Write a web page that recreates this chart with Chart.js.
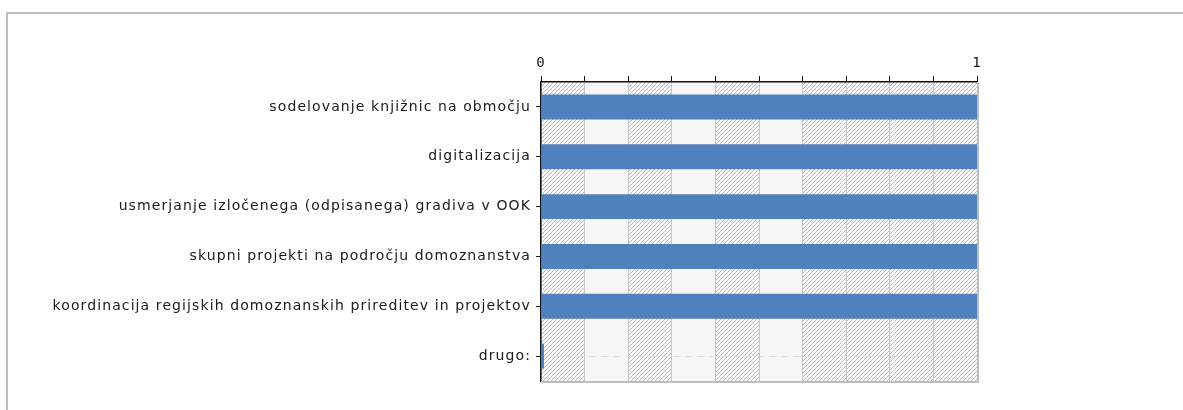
<!DOCTYPE html>
<html>
<head>
<meta charset="utf-8">
<script src="https://cdn.jsdelivr.net/npm/chart.js@4"></script>
<style>
  html, body { margin: 0; padding: 0; background: #fff; overflow: hidden; }
  #frame {
    position: absolute; left: 6px; top: 12px; width: 1300px; height: 500px;
    border-left: 2px solid #bdbdbd; border-top: 2px solid #bdbdbd;
  }
  #wrap { position: absolute; left: 0; top: 0; width: 1183px; height: 410px; }
</style>
</head>
<body>
<div id="frame"></div>
<div id="wrap"><canvas id="chart"></canvas></div>
<script>
const categories = [
  "sodelovanje knjižnic na območju",
  "digitalizacija",
  "usmerjanje izločenega (odpisanega) gradiva v OOK",
  "skupni projekti na področju domoznanstva",
  "koordinacija regijskih domoznanskih prireditev in projektov",
  "drugo:"
];
const values = [1, 1, 1, 1, 1, 0];
const shownTicks = [0, 1];
// background columns: [from, to, hatched?]
const bands = [
  [0.0, 0.1, true], [0.1, 0.2, false], [0.2, 0.3, true], [0.3, 0.4, false],
  [0.4, 0.5, true], [0.5, 0.6, false], [0.6, 1.0, true]
];

function makeHatch(ctx) {
  const c = document.createElement("canvas");
  c.width = 4; c.height = 4;
  const p = c.getContext("2d");
  p.fillStyle = "#fbfbfb";
  p.fillRect(0, 0, 4, 4);
  p.strokeStyle = "#bababa";
  p.lineWidth = 1;
  p.beginPath();
  p.moveTo(0, 4); p.lineTo(4, 0);
  p.moveTo(-1, 1); p.lineTo(1, -1);
  p.moveTo(3, 5); p.lineTo(5, 3);
  p.stroke();
  return ctx.createPattern(c, "repeat");
}

const bandPlugin = {
  id: "bands",
  beforeDraw(chart) {
    const { ctx, chartArea: a, scales } = chart;
    ctx.letterSpacing = "1.1px";
    const hatch = makeHatch(ctx);
    ctx.save();
    bands.forEach(([from, to, hatched]) => {
      const x1 = scales.x.getPixelForValue(from);
      const x2 = scales.x.getPixelForValue(to);
      ctx.fillStyle = hatched ? hatch : "#f7f7f7";
      ctx.fillRect(x1, a.top, x2 - x1, a.bottom - a.top);
    });
    ctx.restore();
  },
  afterDraw(chart) {
    const { ctx, chartArea: a } = chart;
    ctx.save();
    ctx.strokeStyle = "#bdbdbd";
    ctx.lineWidth = 2;
    ctx.beginPath();
    ctx.moveTo(a.left, a.bottom + 1);
    ctx.lineTo(a.right + 1, a.bottom + 1);
    ctx.lineTo(a.right + 1, a.top);
    ctx.stroke();
    ctx.restore();
  }
};

new Chart(document.getElementById("chart").getContext("2d"), {
  type: "bar",
  data: {
    labels: categories,
    datasets: [
      {
        data: values,
        backgroundColor: "#4f81bd",
        barPercentage: 0.5,
        categoryPercentage: 1,
        minBarLength: 3,
      },
    ],
  },
  plugins: [bandPlugin],
  options: {
    indexAxis: "y",
    responsive: true,
    maintainAspectRatio: false,
    animation: false,
    layout: { padding: { left: 0, top: 0, right: 206, bottom: 29 } },
    plugins: {
      legend: { display: false },
      tooltip: { enabled: false },
    },
    scales: {
      x: {
        position: "top",
        min: 0,
        max: 1,
        afterFit: (scale) => { scale.height = 82; },
        ticks: {
          stepSize: 0.1,
          autoSkip: false,
          maxRotation: 0,
          padding: 4,
          color: "#111",
          font: { family: "DejaVu Sans Mono", size: 14 },
          callback: (v) => (shownTicks.some((t) => Math.abs(t - v) < 1e-9) ? String(Math.round(v)) : ""),
        },
        grid: {
          color: "#c8c8c8",
          lineWidth: 1,
          drawTicks: true,
          tickLength: 6,
          tickColor: "#111",
        },
        border: { display: true, color: "#111", width: 1.5 },
      },
      y: {
        afterFit: (scale) => { scale.width = 541; },
        ticks: {
          padding: 5,
          color: "#1a1a1a",
          font: { family: "DejaVu Sans", size: 14 },
        },
        grid: {
          offset: false,
          color: "#dcdcdc",
          lineWidth: 1,
          drawTicks: true,
          tickLength: 5,
          tickColor: "#222",
          tickBorderDash: [],
        },
        border: { display: true, color: "#111", width: 1.5, dash: [7, 5] },
      },
    },
  },
});
</script>
</body>
</html>
